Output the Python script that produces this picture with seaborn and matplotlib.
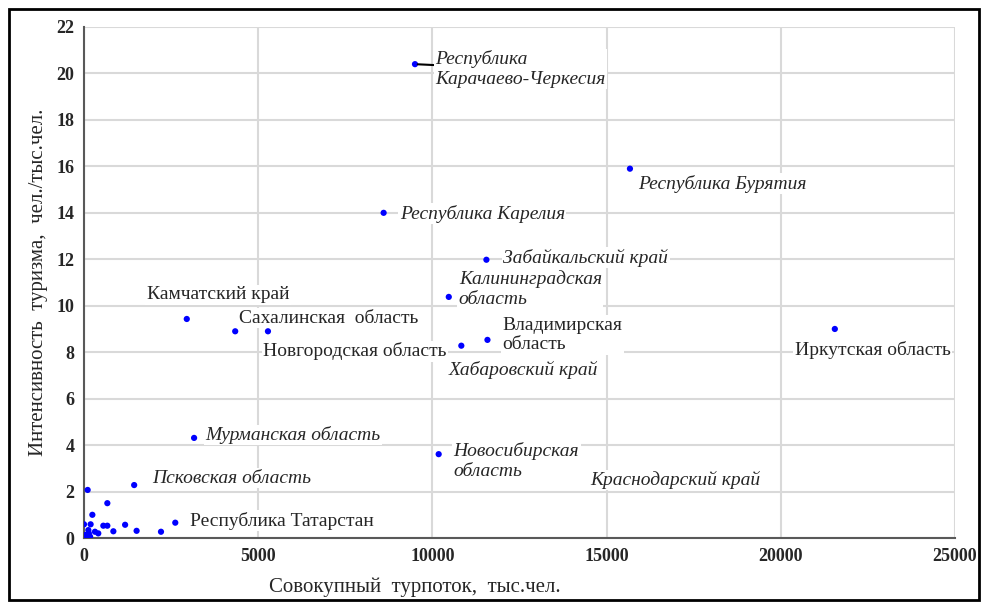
import matplotlib
matplotlib.use("Agg")
import matplotlib.pyplot as plt
import seaborn as sns
import pandas as pd
from matplotlib.patches import Rectangle

# --- data ---
# labelled regions: (name, tourist flow thousand, intensity per thousand)
region_names = [
    "Республика\nКарачаево-Черкесия", "Республика Бурятия", "Республика Карелия",
    "Забайкальский край", "Калининградская\nобласть", "Камчатский край",
    "Сахалинская  область", "Новгородская область", "Владимирская\nобласть",
    "Хабаровский край", "Иркутская область", "Мурманская область",
    "Новосибирская\nобласть", "Псковская область", "Республика Татарстан",
]
region_flow = [9500, 15670, 8600, 11550, 10470, 2950, 4340, 5280, 11580,
               10830, 21550, 3160, 10180, 1440, 2620]
region_intensity = [20.4, 15.9, 14.0, 11.98, 10.38, 9.43, 8.9, 8.9, 8.53,
                    8.28, 9.0, 4.31, 3.61, 2.28, 0.66]
region_italic = [True, True, True, True, True, False, False, False, False,
                 True, False, True, True, True, False]

# unlabelled regions in the lower-left cluster
other_flow = [105, 670, 240, 1180, 555, 670, 190, 0, 843, 1510, 2210, 315,
              410, 125, 30, 0, 90, 175, 140]
other_intensity = [2.07, 1.50, 1.0, 0.57, 0.53, 0.53, 0.59, 0.59, 0.29, 0.31,
                   0.27, 0.27, 0.2, 0.34, 0.13, 0.0, 0.0, 0.06, 0.2]

# label placement offsets (pixels from the point: dx to text left edge, dy to text centre)
label_offsets = [(20, -5), (8, -15), (16, -1), (17, 2), (10, 8), (-40, 24),
                 (4, 13), (-5, -20), (15, 5), (-13, -24), (-40, -21), (11, 3),
                 (15, -7), (18, 7), (15, 2)]
krasnodar_label = "Краснодарский край"
krasnodar_pos = (14540, 2.5)

df = pd.DataFrame({
    "flow": region_flow + other_flow,
    "intensity": region_intensity + other_intensity,
})

sns.set_theme(style="white")
plt.rcParams["font.family"] = ["Liberation Serif", "DejaVu Serif"]

fig = plt.figure(figsize=(9.87, 6.08), dpi=100)
ax = fig.add_axes([0.0851, 0.1151, 0.8825, 0.8405])

sns.scatterplot(data=df, x="flow", y="intensity", color="#0000ff", s=20,
                edgecolor="none", ax=ax, zorder=3)

ax.set_xlim(0, 25000)
ax.set_ylim(0, 22)
ax.set_xticks(range(0, 25001, 5000))
ax.set_yticks(range(0, 23, 2))
ax.grid(True, color="#d9d9d9", linewidth=1.5, zorder=0)
ax.set_axisbelow(True)
for side in ["top", "right"]:
    ax.spines[side].set_visible(False)
for side in ["left", "bottom"]:
    ax.spines[side].set_color("#595959")
    ax.spines[side].set_linewidth(1.5)
ax.tick_params(axis="both", length=0, labelsize=13, pad=7)
for lbl in ax.get_xticklabels() + ax.get_yticklabels():
    lbl.set_fontweight("bold")

ax.set_xlabel("Совокупный  турпоток,  тыс.чел.", fontsize=15)
ax.set_ylabel("Интенсивность  туризма,  чел./тыс.чел.", fontsize=15)
ax.xaxis.set_label_coords(0.38, -0.077)
ax.yaxis.set_label_coords(-0.041, 0.5)

box = dict(facecolor="white", edgecolor="none", pad=1)
for i, name in enumerate(region_names):
    dx, dy = label_offsets[i]
    arrow = None
    if i == 0:
        arrow = dict(arrowstyle="-", color="black", lw=1.5, shrinkA=0, shrinkB=2)
    ax.annotate(name, xy=(region_flow[i], region_intensity[i]),
                xytext=(dx, dy), textcoords="offset pixels",
                ha="left", va="center", fontsize=14,
                style="italic" if region_italic[i] else "normal",
                linespacing=1.2, bbox=box, arrowprops=arrow, zorder=4)

ax.text(krasnodar_pos[0], krasnodar_pos[1], krasnodar_label, ha="left",
        va="center", fontsize=14, style="italic", bbox=box, zorder=4)

fig.patches.append(Rectangle((0.009, 0.013), 0.983, 0.972, transform=fig.transFigure,
                             fill=False, edgecolor="black", linewidth=2))

fig.savefig("out.png", dpi=100, facecolor="white")
